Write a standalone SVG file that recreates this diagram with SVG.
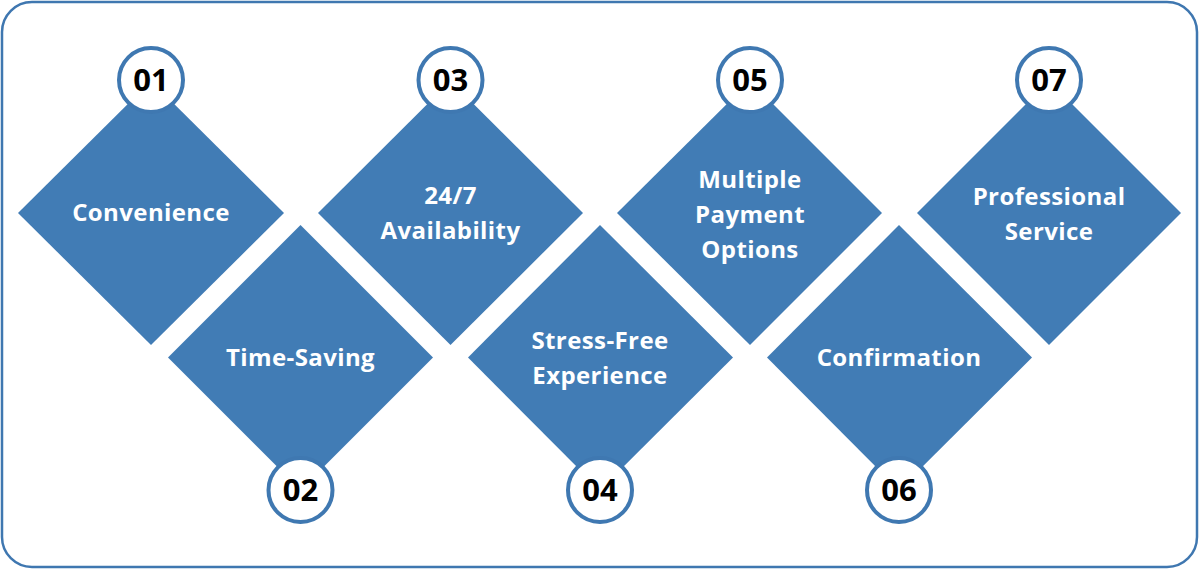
<svg xmlns="http://www.w3.org/2000/svg" width="1200" height="570" viewBox="0 0 1200 570">
<style>
.frame{fill:#ffffff;stroke:#3f77b0;stroke-width:2.5}
.dia{fill:#417cb5}
.num circle{fill:#ffffff;stroke:#3f78b1;stroke-width:4}
.lbl{font-family:"Open Sans","Liberation Sans",sans-serif;font-weight:700;font-size:24px;letter-spacing:0.4px;fill:#ffffff;text-anchor:middle}
.nt{font-family:"Open Sans","Liberation Sans",sans-serif;font-weight:700;font-size:31px;fill:#000000;text-anchor:middle}
</style>
<rect class="frame" x="2" y="2" width="1195" height="565" rx="30" ry="30"/>
<g id="connectors"></g>
<g id="node1">
<polygon class="dia" points="151,81 284,213 151,345 18,213"/>
<text class="lbl" x="151" y="221">Convenience</text>
<g class="num"><circle cx="151" cy="80" r="32"/><text class="nt" x="151" y="91">01</text></g>
</g>
<g id="node2">
<polygon class="dia" points="300.5,225 433,357.5 300.5,490 168,357.5"/>
<text class="lbl" x="300.5" y="366">Time-Saving</text>
<g class="num"><circle cx="300.5" cy="490" r="32"/><text class="nt" x="300.5" y="501">02</text></g>
</g>
<g id="node3">
<polygon class="dia" points="450.5,81 583,213 450.5,345 318,213"/>
<text class="lbl" x="450.5" y="204">24/7</text>
<text class="lbl" x="450.5" y="239">Availability</text>
<g class="num"><circle cx="450.5" cy="80" r="32"/><text class="nt" x="450.5" y="91">03</text></g>
</g>
<g id="node4">
<polygon class="dia" points="600,225 733,357.5 600,490 468,357.5"/>
<text class="lbl" x="600" y="349">Stress-Free</text>
<text class="lbl" x="600" y="384">Experience</text>
<g class="num"><circle cx="600" cy="490" r="32"/><text class="nt" x="600" y="501">04</text></g>
</g>
<g id="node5">
<polygon class="dia" points="750,81 882,213 750,345 617,213"/>
<text class="lbl" x="750" y="188">Multiple</text>
<text class="lbl" x="750" y="223">Payment</text>
<text class="lbl" x="750" y="258">Options</text>
<g class="num"><circle cx="750" cy="80" r="32"/><text class="nt" x="750" y="91">05</text></g>
</g>
<g id="node6">
<polygon class="dia" points="899,225 1032,357.5 899,490 767,357.5"/>
<text class="lbl" x="899" y="366">Confirmation</text>
<g class="num"><circle cx="899" cy="490" r="32"/><text class="nt" x="899" y="501">06</text></g>
</g>
<g id="node7">
<polygon class="dia" points="1049,81 1181,213 1049,345 917,213"/>
<text class="lbl" x="1049" y="205">Professional</text>
<text class="lbl" x="1049" y="240">Service</text>
<g class="num"><circle cx="1049" cy="80" r="32"/><text class="nt" x="1049" y="91">07</text></g>
</g>
</svg>
